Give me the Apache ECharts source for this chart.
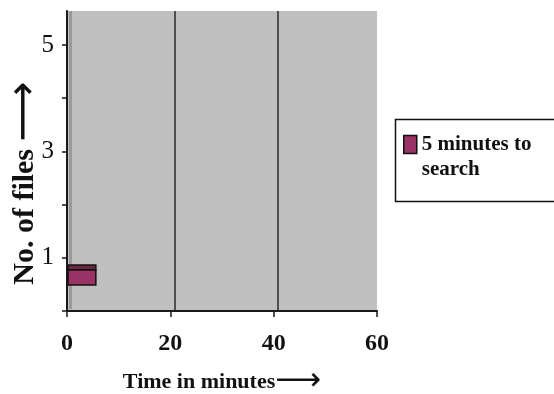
<!DOCTYPE html>
<html>
<head>
<meta charset="utf-8">
<script src="https://cdn.jsdelivr.net/npm/echarts@6/dist/echarts.min.js"></script>
<style>
html,body{margin:0;padding:0;background:#fff;}
#chart{width:554px;height:394px;}
</style>
</head>
<body>
<div id="chart"></div>
<script>
// ---- data ----
const seriesName = '5 minutes to search';
const legendLabel = '\n5 minutes to\nsearch';
const barMinutes = [5];          // bar length (time in minutes)
const barPosition = [0.63];      // bar centre on the "No. of files" axis
const xTicks = [0, 20, 40, 60];
const yTicks = [0, 1, 2, 3, 4, 5];
const yLabels = [1, 3, 5];
const xTitle = 'Time in minutes';
const yTitle = 'No. of files';

// ---- style ----
const BAR_H = 0.28;
const SERIF = "'Liberation Serif', 'Times New Roman', serif";

const chart = echarts.init(document.getElementById('chart'), null, {renderer: 'canvas'});
const data = barMinutes.map((v, i) => [v, barPosition[i]]);

chart.setOption({
  animation: false,
  backgroundColor: '#ffffff',
  grid: [
    {left: 67, top: 11, width: 310, height: 300, show: true, backgroundColor: '#c0c0c0', borderWidth: 0,
     containLabel: false, outerBoundsMode: 'none'},
    {left: 72, top: 11, width: 309, height: 300, show: false, containLabel: false, outerBoundsMode: 'none'}
  ],
  xAxis: [
    {
      type: 'value', gridIndex: 0, min: 0, max: 60, interval: 20,
      axisLine: {show: true, lineStyle: {color: '#1a1a1a', width: 2}},
      axisTick: {show: true, length: 6, lineStyle: {color: '#1a1a1a', width: 1.5}},
      axisLabel: {show: true, margin: 21, fontFamily: SERIF, fontSize: 24, fontWeight: 'bold', color: '#111'},
      splitLine: {show: false},
      name: '{t|' + xTitle + '}{a|\u27F6}',
      nameLocation: 'middle',
      nameGap: 55,
      nameMoveOverlap: false,
      nameTextStyle: {
        rich: {
          t: {fontFamily: SERIF, fontSize: 22, fontWeight: 'bold', color: '#111'},
          a: {fontFamily: 'DejaVu Sans', fontSize: 32, color: '#111'}
        }
      }
    },
    {
      type: 'value', gridIndex: 1, min: 0, max: 60, interval: 20,
      axisLine: {show: false}, axisTick: {show: false}, axisLabel: {show: false},
      splitLine: {show: true, showMinLine: false, showMaxLine: false, lineStyle: {color: '#2a2a2a', width: 1.5}}
    }
  ],
  yAxis: [
    {
      type: 'value', gridIndex: 0, min: 0, max: 5.64, interval: 1,
      axisLine: {show: true, lineStyle: {color: '#1a1a1a', width: 2}},
      axisTick: {show: true, length: 5, customValues: yTicks, lineStyle: {color: '#1a1a1a', width: 1.5}},
      axisLabel: {show: true, customValues: yLabels, margin: 13, fontFamily: SERIF, fontSize: 25, color: '#111'},
      splitLine: {show: false},
      name: '{t|' + yTitle + ' }{a|\u27F6}',
      nameLocation: 'middle',
      nameRotate: 90,
      nameGap: 21,
      nameMoveOverlap: false,
      nameTextStyle: {
        padding: [0, 44, 0, 0],
        rich: {
          t: {fontFamily: SERIF, fontSize: 30, fontWeight: 'bold', color: '#111'},
          a: {fontFamily: 'DejaVu Sans', fontSize: 42, color: '#111'}
        }
      }
    },
    {
      type: 'value', gridIndex: 1, min: 0, max: 5.64,
      axisLine: {show: false}, axisTick: {show: false}, axisLabel: {show: false}, splitLine: {show: false}
    }
  ],
  legend: {
    show: true,
    left: 403, top: 107,
    orient: 'vertical',
    padding: 0,
    itemWidth: 13, itemHeight: 18, itemGap: 6,
    icon: 'rect',
    data: [{name: seriesName, itemStyle: {color: '#993366', borderColor: '#111', borderWidth: 1.5}}],
    formatter: () => legendLabel,
    textStyle: {
      fontFamily: SERIF, fontSize: 21, fontWeight: 'bold', color: '#111',
      lineHeight: 25
    }
  },
  graphic: [
    {type: 'rect', left: 393, top: 117, shape: {width: 170, height: 82},
     style: {fill: 'none', stroke: '#111', lineWidth: 1.5}, silent: true},
    {type: 'rect', left: 69, top: 11, shape: {width: 3, height: 298},
     style: {fill: '#9a9a9a'}, silent: true, z: 1}
  ],
  series: [
    {
      type: 'custom',
      name: seriesName,
      xAxisIndex: 0, yAxisIndex: 0,
      data: data,
      itemStyle: {color: '#993366'},
      z: 5,
      renderItem: function (params, api) {
        const p0 = api.coord([0, api.value(1)]);
        const p1 = api.coord([api.value(0), api.value(1)]);
        const h = api.size([0, BAR_H])[1];
        const top = p0[1] - h / 2;
        const depth = 5;
        return {
          type: 'group',
          children: [
            {type: 'rect', shape: {x: p0[0] + 1, y: top - depth, width: p1[0] - p0[0] + 2, height: depth},
             style: {fill: '#6b2740', stroke: '#111', lineWidth: 1.5}},
            {type: 'rect', shape: {x: p0[0] + 1, y: top, width: p1[0] - p0[0] + 2, height: h},
             style: {fill: '#993366', stroke: '#111', lineWidth: 1.5}}
          ]
        };
      }
    }
  ]
});
</script>
</body>
</html>
